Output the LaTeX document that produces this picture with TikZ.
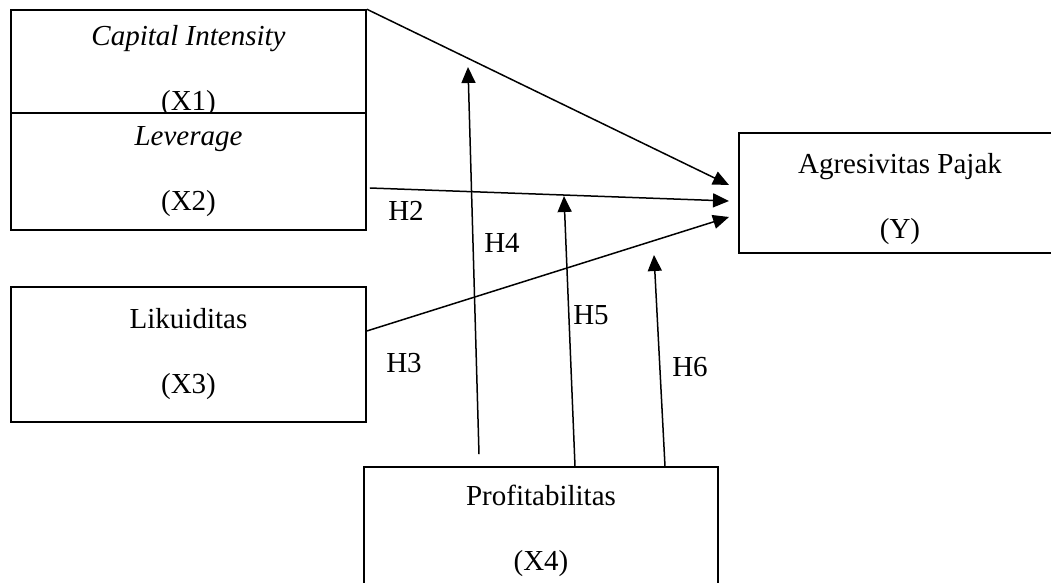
\documentclass[tikz,border=0pt]{standalone}
\usepackage{fontspec}
\setmainfont{Liberation Serif}
\usetikzlibrary{arrows.meta,calc}

\begin{document}
\begin{tikzpicture}[x=0.5pt,y=-0.5pt,
  varbox/.style={draw,fill=white,line width=0.8pt,align=center,inner sep=0pt,
    font=\fontsize{14.5}{32.5}\selectfont},
  hyp/.style={font=\fontsize{14.5}{17}\selectfont,inner sep=0pt},
  link/.style={line width=0.75pt,-{Triangle[length=8pt,width=7pt]}}]

\useasboundingbox (0,0) rectangle (1051,583);

% Variables (X2 covers the bottom of X1)
\node[varbox,minimum width=177.5pt,minimum height=61pt] (X1) at (188.5,71) {\textit{Capital Intensity}\\(X1)};
\node[varbox,minimum width=177.5pt,minimum height=58.5pt] (X2) at (188.5,171.5) {\textit{Leverage}\\(X2)};
\node[varbox,minimum width=177.5pt,minimum height=67.5pt] (X3) at (188.5,354.5) {Likuiditas\\(X3)};
\node[varbox,minimum width=161pt,minimum height=60pt] (Y) at (900,193) {\rule{0pt}{16pt}Agresivitas Pajak\\(Y)};
\node[varbox,minimum width=177pt,minimum height=61pt] (X4) at (541,528) {\rule{0pt}{13pt}Profitabilitas\\(X4)};

% Arrow heads at Y and on the paths
\coordinate (t1) at (729,185);
\coordinate (t2) at (729,201);
\coordinate (t3) at (729,217);
\coordinate (m4) at (468,67);
\coordinate (m5) at (564,196);
\coordinate (m6) at (654,255);

% Direct effects
\draw[link] (X1.north east) -- (t1);
\draw[link] ($(X2.east)+(3,16.5)$) -- (t2);
\draw[link] ($(X3.east)+(0,-23.5)$) -- (t3);

% Moderation
\draw[link] ($(X4.north)+(-62,-12)$) -- (m4);
\draw[link] ($(X4.north)+(34,0)$) -- (m5);
\draw[link] ($(X4.north)+(124,0)$) -- (m6);

% Hypotheses
\node[hyp] (h2) at (406,211) {H2};
\node[hyp] (h3) at (404,363) {H3};
\node[hyp] (h4) at (502,243) {H4};
\node[hyp] (h5) at (591,315) {H5};
\node[hyp] (h6) at (690,367) {H6};

\end{tikzpicture}
\end{document}
